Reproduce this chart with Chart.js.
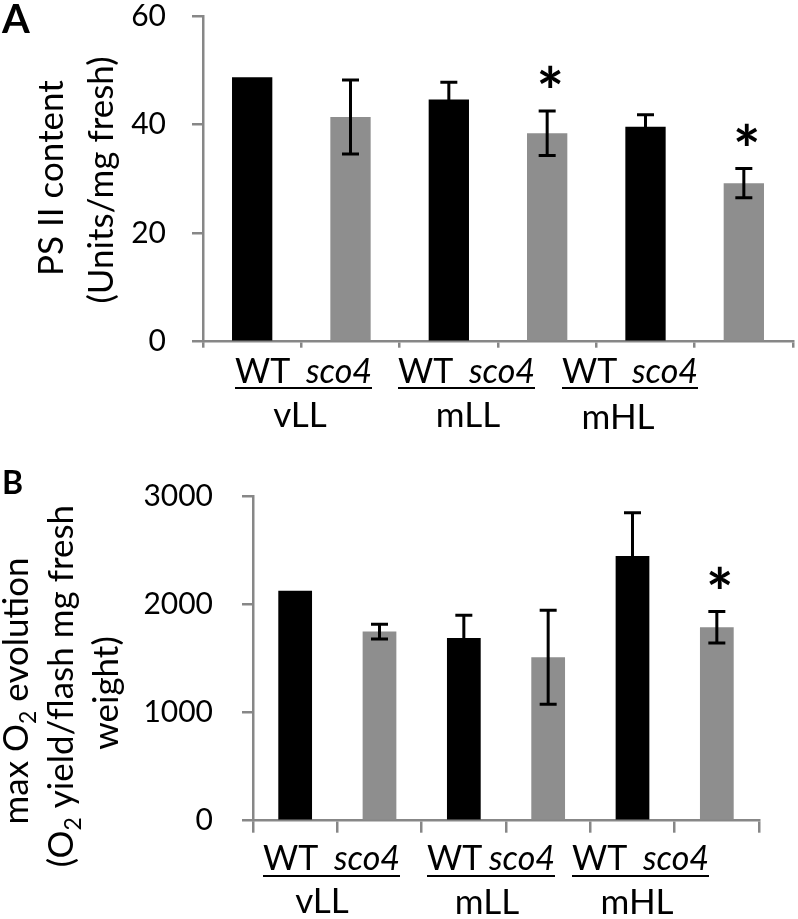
<!DOCTYPE html>
<html>
<head>
<meta charset="utf-8">
<title>PS II content and O2 evolution</title>
<script src="https://cdn.jsdelivr.net/npm/chart.js@4.4.1/dist/chart.umd.min.js"></script>
<style>
  html, body { margin: 0; padding: 0; background: #fff; }
  #wrap { position: relative; width: 798px; height: 919px; }
  #wrap canvas { position: absolute; left: 0; }
</style>
</head>
<body>
<div id="wrap">
  <canvas id="chartA" width="798" height="460" style="top:0"></canvas>
  <canvas id="chartB" width="798" height="459" style="top:460px"></canvas>
</div>
<script>
// genotypes and light conditions
const genotypes = ['WT', 'sco4'];
const conditions = ['vLL', 'mLL', 'mHL'];
const categories = conditions.flatMap(c => genotypes.map(g => g + ' ' + c));

// A - PS II content (Units/mg fresh)
const psiiMeans = [48.7, 41.4, 44.6, 38.4, 39.6, 29.2];
const psiiErrors = [0, 6.8, 3.2, 4.1, 2.2, 2.7];
const psiiSignificant = [false, false, false, true, false, true];
const psiiTicks = [0, 20, 40, 60];

// B - max O2 evolution (O2 yield/flash mg fresh weight)
const o2Means = [2125, 1747, 1689, 1510, 2446, 1787];
const o2Errors = [0, 68, 210, 435, 400, 145];
const o2Significant = [false, false, false, false, false, true];
const o2Ticks = [0, 1000, 2000, 3000];

const barColors = ['#000000', '#8e8e8e']; // WT black, sco4 gray
const axisColor = '#878787';
const FONT = 'Lato, "Open Sans", sans-serif';

// error bars, asterisks, custom x labels, y titles, panel letter
const annotPlugin = {
    id: 'annot',
    afterDatasetsDraw(chart, args, opts) {
        const ctx = chart.ctx;
        const yScale = chart.scales.y;
        const meta = chart.getDatasetMeta(0);
        ctx.save();
        ctx.strokeStyle = '#000';
        ctx.lineWidth = 3;
        meta.data.forEach((bar, i) => {
            const v = opts.means[i];
            const err = opts.errors[i];
            const yTop = yScale.getPixelForValue(v + err);
            const yBot = yScale.getPixelForValue(v - err);
            if (err > 0) {
                ctx.beginPath();
                ctx.moveTo(bar.x, yTop); ctx.lineTo(bar.x, yBot);
                ctx.moveTo(bar.x - 8.5, yTop); ctx.lineTo(bar.x + 8.5, yTop);
                ctx.moveTo(bar.x - 8.5, yBot); ctx.lineTo(bar.x + 8.5, yBot);
                ctx.stroke();
            }
            if (opts.significant[i]) {
                // size the asterisk so the glyph is ~22px tall
                ctx.font = 'bold 100px ' + FONT;
                let m = ctx.measureText('*');
                const size = 100 * 22 / (m.actualBoundingBoxAscent + m.actualBoundingBoxDescent);
                ctx.font = 'bold ' + size.toFixed(1) + 'px ' + FONT;
                m = ctx.measureText('*');
                const cy = yTop - 34;
                const base = cy + (m.actualBoundingBoxAscent - m.actualBoundingBoxDescent) / 2;
                ctx.fillStyle = '#000';
                ctx.textAlign = 'center';
                ctx.textBaseline = 'alphabetic';
                ctx.fillText('*', bar.x + 3, base);
            }
        });
        ctx.restore();
    },
    afterDraw(chart, args, opts) {
        const ctx = chart.ctx;
        const L = opts.layout;
        ctx.save();
        ctx.fillStyle = '#000';
        ctx.textBaseline = 'alphabetic';

        // "WT  sco4" underlined, condition below
        L.pairSpans.forEach(([x0, x1], k) => {
            ctx.font = '34px ' + FONT;
            ctx.textAlign = 'left';
            ctx.fillText(genotypes[0], x0, L.pairBaseline);
            ctx.font = 'italic 34px ' + FONT;
            ctx.textAlign = 'right';
            ctx.fillText(genotypes[1], x1, L.pairBaseline);
            ctx.fillRect(x0, L.underlineY, x1 - x0, 2);
            ctx.font = '35px ' + FONT;
            ctx.textAlign = 'center';
            ctx.fillText(conditions[k], L.groupX[k], L.groupBaseline[k]);
        });

        // rotated y titles, with subscripts
        L.titles.forEach(line => {
            ctx.save();
            ctx.translate(line.x, line.y);
            ctx.rotate(-Math.PI / 2);
            ctx.textAlign = 'left';
            let total = 0;
            line.segs.forEach(s => {
                ctx.font = (s.sub ? '23px ' : '35px ') + FONT;
                total += ctx.measureText(s.t).width;
            });
            let cx = -total / 2;
            line.segs.forEach(s => {
                ctx.font = (s.sub ? '23px ' : '35px ') + FONT;
                ctx.fillText(s.t, cx, s.sub ? 8 : 0);
                cx += ctx.measureText(s.t).width;
            });
            ctx.restore();
        });

        // panel letter
        ctx.font = 'bold ' + L.letter.size + 'px ' + FONT;
        ctx.textAlign = 'left';
        ctx.fillText(L.letter.t, L.letter.x, L.letter.y);
        ctx.restore();
    }
};

function makeChart(canvasId, means, errors, significant, ticks, area, layout) {
    const canvas = document.getElementById(canvasId);
    return new Chart(canvas.getContext('2d'), {
        type: 'bar',
        data: {
            labels: categories,
            datasets: [{
                data: means,
                backgroundColor: categories.map((c, i) => barColors[i % 2]),
                borderWidth: 0,
                categoryPercentage: 1,
                barPercentage: area.barPct
            }]
        },
        options: {
            responsive: false,
            animation: false,
            devicePixelRatio: 1,
            layout: {
                autoPadding: false,
                padding: { top: area.top, right: canvas.width - area.right, left: 0, bottom: 0 }
            },
            plugins: {
                legend: { display: false },
                tooltip: { enabled: false },
                annot: { means: means, errors: errors, significant: significant, layout: layout }
            },
            scales: {
                x: {
                    offset: true,
                    grid: {
                        offset: true,
                        drawOnChartArea: false,
                        drawTicks: true,
                        tickLength: area.xTick,
                        color: axisColor,
                        lineWidth: 2.5
                    },
                    border: { color: axisColor, width: 2.5 },
                    ticks: { display: false },
                    afterFit: s => {
                        s.height = canvas.height - area.bottom;
                        s.paddingLeft = 0; s.paddingRight = 0;
                    }
                },
                y: {
                    min: ticks[0],
                    max: ticks[ticks.length - 1],
                    afterBuildTicks: s => { s.ticks = ticks.map(v => ({ value: v })); },
                    grid: {
                        drawOnChartArea: false,
                        drawTicks: true,
                        tickLength: 11,
                        color: axisColor,
                        lineWidth: 2.5
                    },
                    border: { color: axisColor, width: 2.5 },
                    ticks: {
                        color: '#000',
                        padding: area.tickPad,
                        font: { family: FONT, size: 30 },
                        callback: v => String(v)
                    },
                    afterFit: s => {
                        s.width = area.left;
                        // tick padding must not push the plot area down
                        s.paddingTop = 0; s.paddingBottom = 0;
                    }
                }
            }
        },
        plugins: [annotPlugin]
    });
}

makeChart('chartA', psiiMeans, psiiErrors, psiiSignificant, psiiTicks,
    { left: 203, right: 793, top: 16, bottom: 341.7, barPct: 0.41, xTick: 6, tickPad: 26 },
    {
        pairSpans: [[235, 372], [398, 535], [562, 698]],
        pairBaseline: 383,
        underlineY: 387,
        groupX: [300, 468, 618],
        groupBaseline: [427, 427, 429],
        titles: [
            { segs: [{ t: 'PS II content' }], x: 63, y: 178 },
            { segs: [{ t: '(Units/mg fresh)' }], x: 113, y: 180 }
        ],
        letter: { t: 'A', x: 2, y: 33, size: 40 }
    });

makeChart('chartB', o2Means, o2Errors, o2Significant, o2Ticks,
    { left: 253, right: 759, top: 36, bottom: 360.7, barPct: 0.40, xTick: 12, tickPad: 29 },
    {
        pairSpans: [[263, 400], [427, 555], [572, 709]],
        pairBaseline: 410,
        underlineY: 415,
        groupX: [322, 487, 637],
        groupBaseline: [453, 454, 454],
        titles: [
            { segs: [{ t: 'max O' }, { t: '2', sub: true }, { t: ' evolution' }], x: 28, y: 231 },
            { segs: [{ t: '(O' }, { t: '2', sub: true }, { t: ' yield/flash mg fresh' }], x: 73, y: 226 },
            { segs: [{ t: 'weight)' }], x: 118, y: 233 }
        ],
        letter: { t: 'B', x: 2, y: 34, size: 32 }
    });
</script>
</body>
</html>
